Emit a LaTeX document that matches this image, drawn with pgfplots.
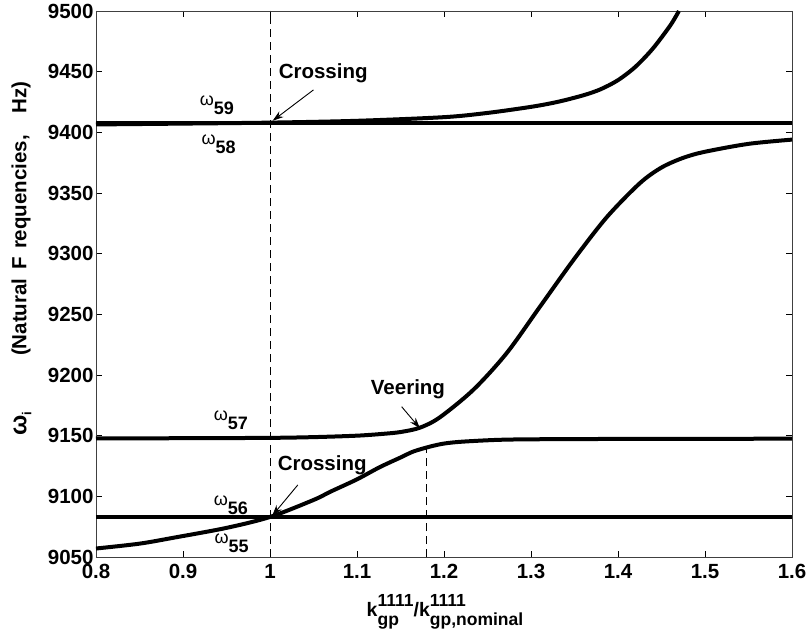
\documentclass[border=0pt]{standalone}
\usepackage{fontspec}
\setmainfont{Liberation Sans}
\usepackage{pgfplots}
\pgfplotsset{compat=1.18}
\usetikzlibrary{arrows.meta}

% mode label: omega with a bold, lowered index
\newcommand\modelabel[1]{{\fontsize{18}{18}\selectfont ω\raisebox{-9pt}{\bfseries #1}}}
\newcommand\scr[1]{{\fontsize{17.5}{17}\selectfont #1}}

\begin{document}
\begin{tikzpicture}
\begin{axis}[
  at={(0,0)}, anchor=south west,
  scale only axis, width=696pt, height=546pt,
  xmin=0.8, xmax=1.6, ymin=9050, ymax=9500,
  clip mode=individual,
  xtick={0.8,0.9,1.0,1.1,1.2,1.3,1.4,1.5,1.6},
  xticklabels={0.8,0.9,1,1.1,1.2,1.3,1.4,1.5,1.6},
  ytick={9050,9100,9150,9200,9250,9300,9350,9400,9450,9500},
  yticklabels={9050,9100,9150,9200,9250,9300,9350,9400,9450,9500},
  tick align=inside, major tick length=6pt,
  tick style={black, line width=0.6pt},
  axis line style={black!75, line width=0.9pt},
  tick label style={font=\fontsize{20.5}{20.5}\selectfont\bfseries},
  yticklabel style={xshift=1pt, inner ysep=0pt},
  xticklabel style={yshift=-6pt, inner ysep=1pt},
]
% horizontal modes
\addplot[black, line width=4pt] coordinates {(0.8,9408) (1.6,9408)};
\addplot[black, line width=4pt] coordinates {(0.8,9083) (1.6,9083)};

% omega_59
\addplot[black, line width=4pt, smooth] coordinates {
(0.80,9406.5) (0.90,9407.2) (1.00,9408) (1.10,9409.5) (1.20,9412.5)
(1.25,9416) (1.30,9421) (1.33,9425) (1.36,9430.5) (1.38,9435.5)
(1.40,9443) (1.42,9454) (1.44,9469) (1.46,9488) (1.47,9500)};

% omega_57
\addplot[black, line width=4pt, smooth] coordinates {
(0.80,9147.8) (0.90,9147.9) (1.00,9148.2) (1.05,9148.8) (1.10,9150.0)
(1.13,9151.5) (1.15,9153.0) (1.172,9156.5) (1.195,9165) (1.234,9188)
(1.272,9218) (1.310,9256) (1.349,9295) (1.387,9330) (1.425,9358)
(1.45,9371) (1.475,9379) (1.50,9384) (1.55,9390.5) (1.60,9394)};

% omega_56
\addplot[black, line width=4pt, smooth] coordinates {
(0.80,9057) (0.85,9061) (0.89,9066) (0.95,9074) (1.00,9083)
(1.05,9097) (1.07,9104) (1.10,9114) (1.126,9124) (1.15,9132)
(1.165,9137) (1.184,9141) (1.20,9143.5) (1.22,9145) (1.26,9146.5)
(1.30,9147) (1.40,9147.3) (1.60,9147.5)};

% reference lines
\draw[black, line width=0.7pt, dash pattern=on 8pt off 5pt]
  (axis cs:1.0,9050) -- (axis cs:1.0,9500);
\draw[black, line width=0.7pt, dash pattern=on 8pt off 5pt]
  (axis cs:1.18,9050) -- (axis cs:1.18,9140);

% annotations
\node[anchor=west, font=\fontsize{20.5}{20.5}\selectfont\bfseries] at (axis cs:1.006,9449) {Crossing};
\draw[black, line width=0.9pt, -{Stealth[length=11pt,width=7pt]}]
  (axis cs:1.05,9435) -- (axis cs:1.003,9409.5);

\node[font=\fontsize{20.5}{20.5}\selectfont\bfseries] at (axis cs:1.1586,9188.5) {Veering};
\draw[black, line width=0.9pt, -{Stealth[length=11pt,width=7pt]}]
  (axis cs:1.1513,9173.9) -- (axis cs:1.1724,9156);

\node[font=\fontsize{20.5}{20.5}\selectfont\bfseries] at (axis cs:1.06,9126) {Crossing};
\draw[black, line width=0.9pt, -{Stealth[length=11pt,width=7pt]}]
  (axis cs:1.032,9109.4) -- (axis cs:1.0025,9084);

\node at (axis cs:0.939,9422) {\modelabel{59}};
\node at (axis cs:0.941,9390) {\modelabel{58}};
\node at (axis cs:0.955,9163) {\modelabel{57}};
\node at (axis cs:0.955,9093) {\modelabel{56}};
\node at (axis cs:0.956,9061.5) {\modelabel{55}};

% axis labels
\node[rotate=90, font=\fontsize{20.5}{20.5}\selectfont\bfseries] at (rel axis cs:-0.107,0.5467)
  {{\fontsize{24}{24}\selectfont ω}\raisebox{-5pt}{\fontsize{13}{13}\selectfont i}\hspace{56pt}(Natural\hspace{9pt}F\hspace{8pt}requencies,\hspace{22pt}Hz)};
\node[font=\fontsize{19.5}{19.5}\selectfont\bfseries] at (rel axis cs:0.5014,-0.1007)
  {k\rlap{\raisebox{-9pt}{\scr{gp}}}\raisebox{10pt}{\scr{1111}}/k\rlap{\raisebox{10pt}{\scr{1111}}}\raisebox{-9pt}{\scr{gp,nominal}}};
\end{axis}
\pgfresetboundingbox
\path[use as bounding box] (-96pt,-81pt) rectangle (712pt,557pt);
\end{tikzpicture}
\end{document}
